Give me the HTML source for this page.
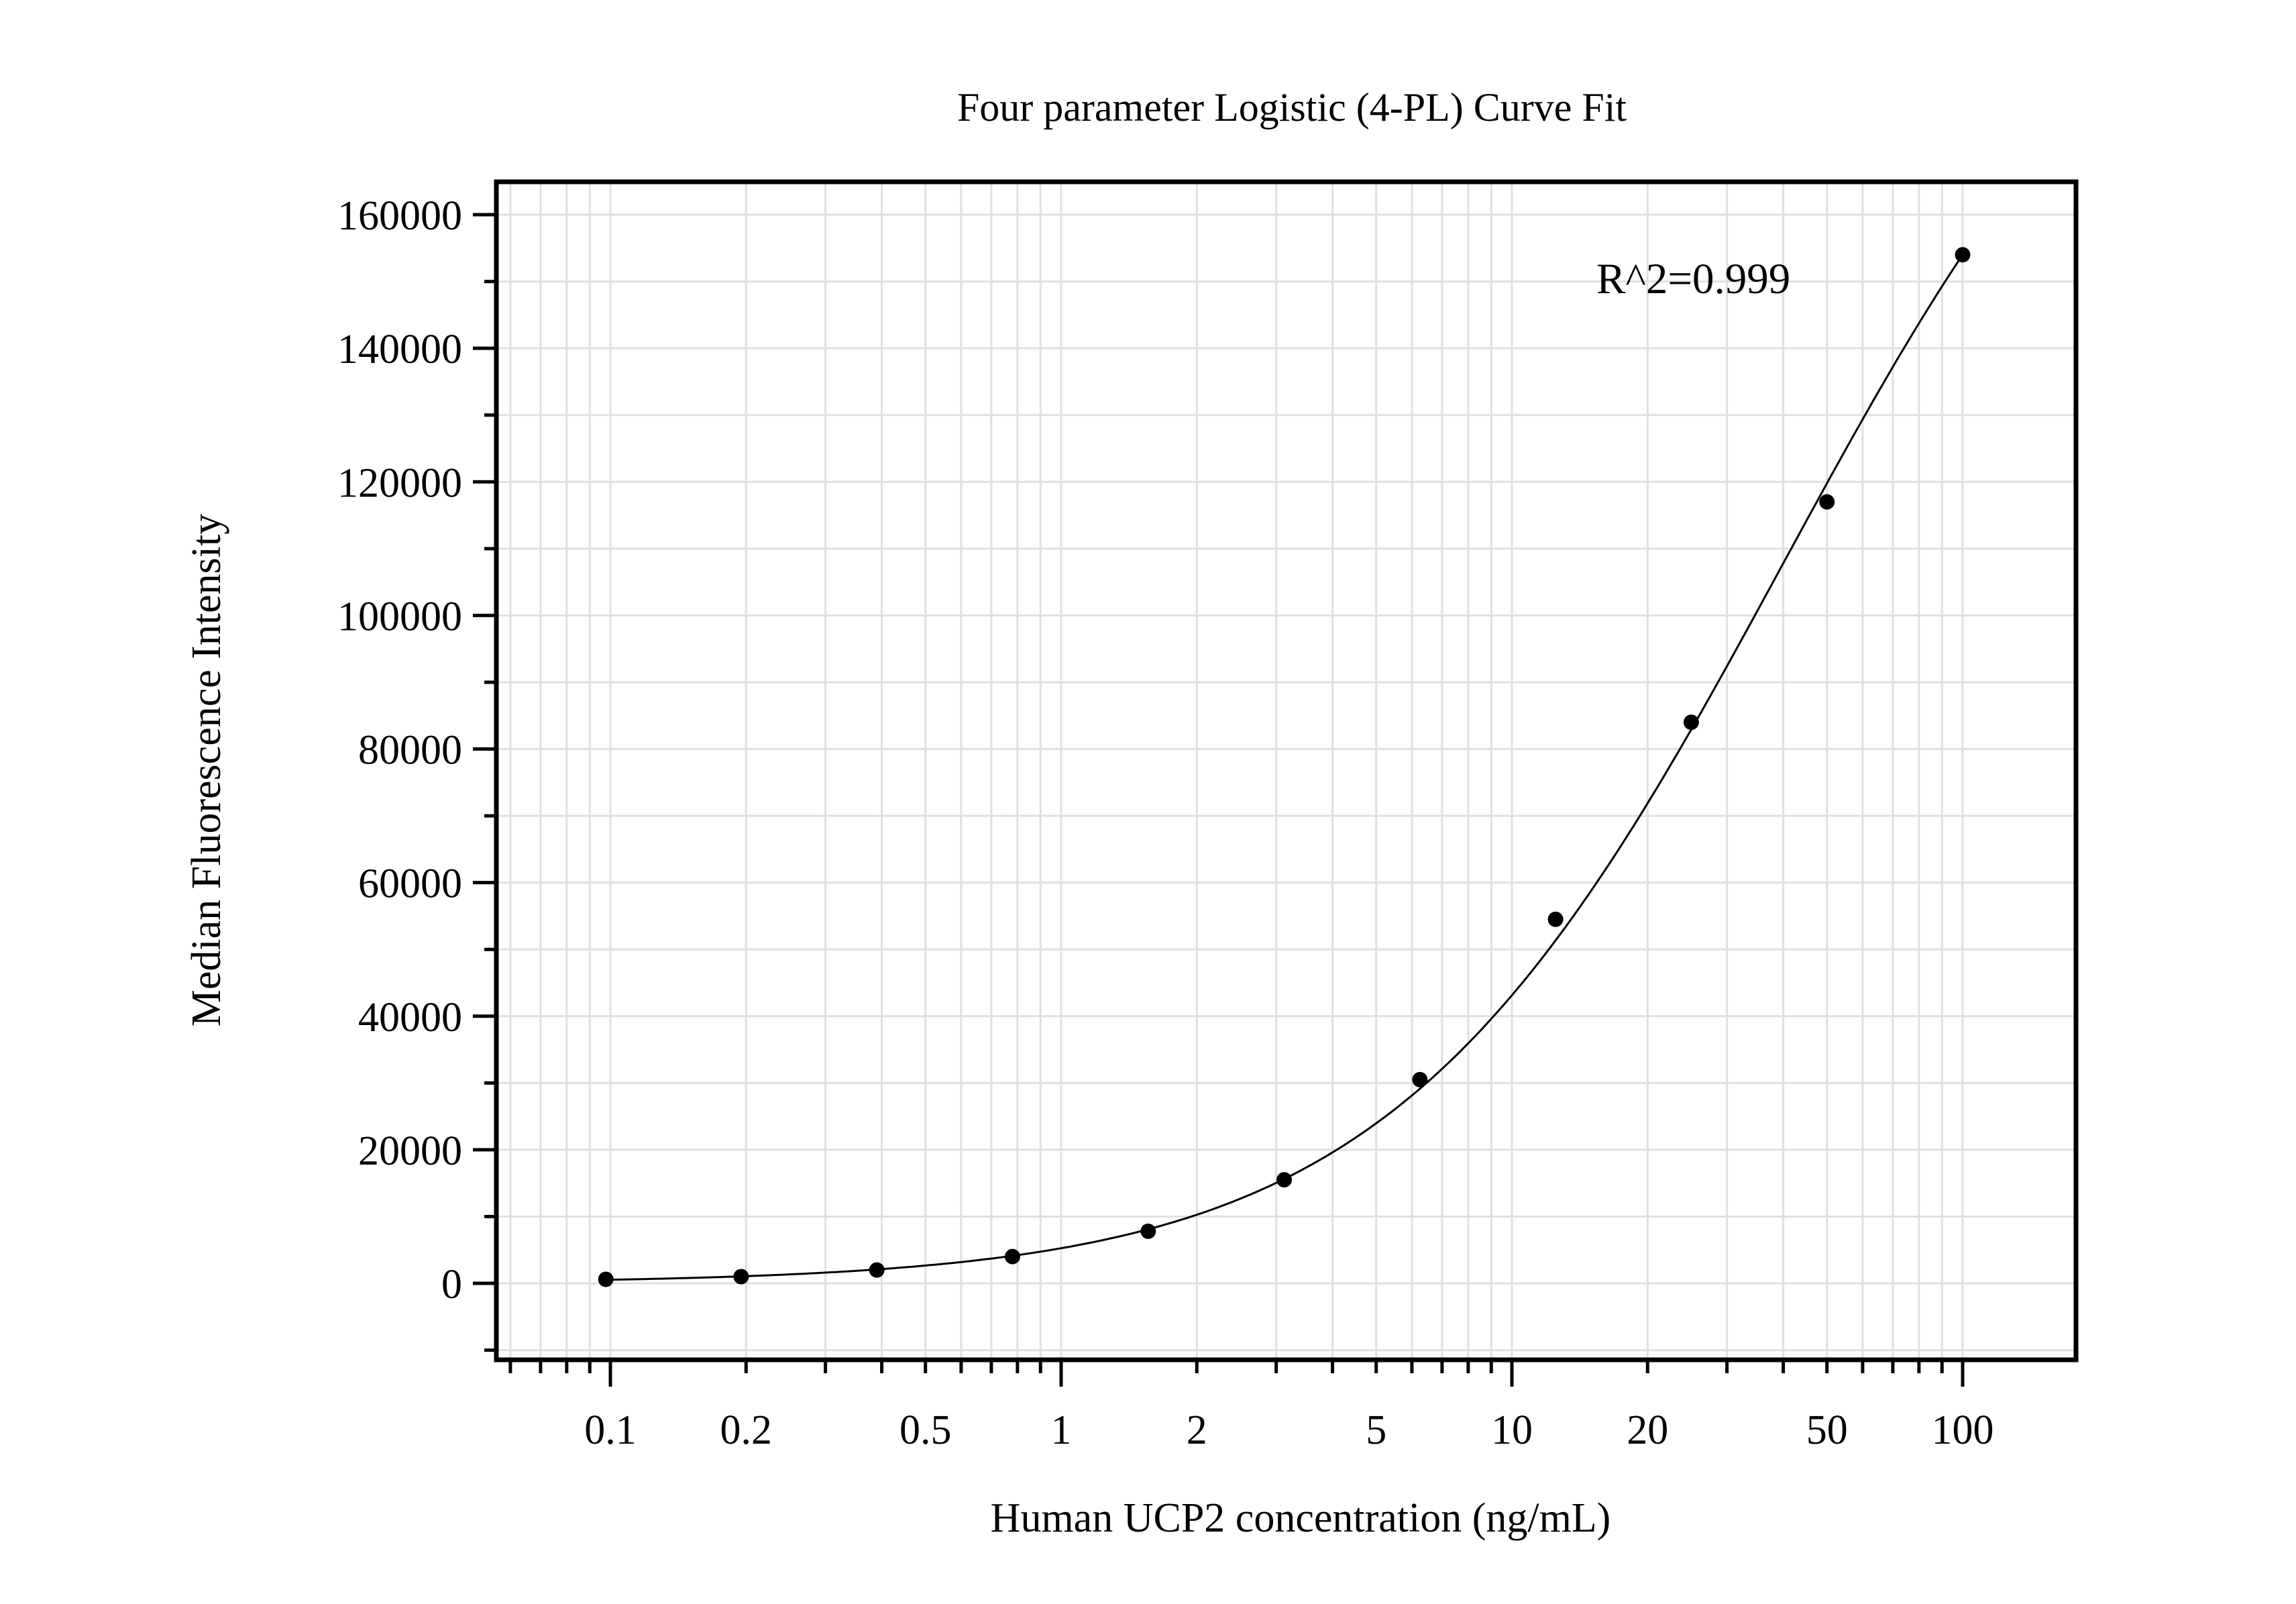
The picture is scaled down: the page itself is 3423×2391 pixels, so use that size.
<!DOCTYPE html>
<html><head><meta charset="utf-8"><style>
html,body{margin:0;padding:0;background:#fff}
svg{display:block;font-family:"Liberation Serif",serif}
</style></head><body>
<svg id="chart" width="3423" height="2391" viewBox="0 0 3423 2391" xmlns="http://www.w3.org/2000/svg">
<rect width="3423" height="2391" fill="#fff"/>
<g id="grid"></g>
<g id="marks"></g>
<g id="axes"></g>
<text x="1926" y="180" font-size="60" text-anchor="middle">Four parameter Logistic (4-PL) Curve Fit</text>
<text x="1939" y="2283" font-size="62" text-anchor="middle">Human UCP2 concentration (ng/mL)</text>
<text transform="translate(328,1148) rotate(-90)" font-size="62" text-anchor="middle">Median Fluorescence Intensity</text>
<text x="2380" y="437" font-size="65">R^2=0.999</text>
</svg>
<script>
const concentrations = [0.0977, 0.195, 0.39, 0.78, 1.56, 3.125, 6.25, 12.5, 25, 50, 100];
const intensities = [600, 1000, 2000, 4000, 7800, 15500, 30500, 54500, 84000, 117000, 154000];
const fitParams = [0, 1, 40, 215600]; // A, B, C, D of 4PL fit
const xTickValues = [0.1, 0.2, 0.5, 1, 2, 5, 10, 20, 50, 100];
const xTickLabels = ["0.1", "0.2", "0.5", "1", "2", "5", "10", "20", "50", "100"];
const yTickValues = [0, 20000, 40000, 60000, 80000, 100000, 120000, 140000, 160000];
const yTickLabels = ["0", "20000", "40000", "60000", "80000", "100000", "120000", "140000", "160000"];

const L = 740, R = 3095, T = 271, B = 2027;
const x0 = 910, dec = 672;
const xs = v => x0 + (Math.log10(v) + 1) * dec;
const yZero = 1913, yPer = (1913 - 320) / 160000;
const ys = v => yZero - v * yPer;
const NS = "http://www.w3.org/2000/svg";
function mk(tag, attrs, parent) {
  const e = document.createElementNS(NS, tag);
  for (const k in attrs) e.setAttribute(k, attrs[k]);
  parent.appendChild(e);
  return e;
}
const grid = document.getElementById('grid');
const marks = document.getElementById('marks');
const axes = document.getElementById('axes');

// vertical gridlines (log minor)
const minorX = [];
for (let d = -2; d <= 2; d++) for (let m = 1; m <= 9; m++) {
  const v = m * Math.pow(10, d);
  const px = xs(v);
  if (px > L + 4 && px < R - 4) minorX.push(v);
}
minorX.forEach(v => {
  const l = mk('line', {x1: xs(v), x2: xs(v), y1: T, y2: B, stroke: '#e0e0e0', 'stroke-width': 3}, grid);
  
  
});
for (let v = -10000; v <= 160000; v += 10000) {
  const py = ys(v);
  if (py < T + 4 || py > B - 4) continue;
  const l = mk('line', {x1: L, x2: R, y1: py, y2: py, stroke: '#e0e0e0', 'stroke-width': 3}, grid);
  
  
}

// fit curve
const [A, Bp, C, D] = fitParams;
let d = '';
for (let lg = Math.log10(0.0977); lg <= 2.0001; lg += 0.01) {
  const x = Math.pow(10, lg);
  const y = D + (A - D) / (1 + Math.pow(x / C, Bp));
  d += (d ? 'L' : 'M') + xs(x).toFixed(1) + ',' + ys(y).toFixed(1);
}
const curve = mk('path', {d: d, fill: 'none', stroke: '#000', 'stroke-width': 3}, marks);



concentrations.forEach((c, i) => {
  const p = mk('circle', {cx: xs(c), cy: ys(intensities[i]), r: 11.5, fill: '#000'}, marks);
  
  
});

// frame
const fr = mk('rect', {x: L, y: T, width: R - L, height: B - T, fill: 'none', stroke: '#000', 'stroke-width': 7}, axes);



// x ticks
minorX.forEach(v => {
  const isDec = Math.abs(Math.log10(v) - Math.round(Math.log10(v))) < 1e-6;
  const t = mk('line', {x1: xs(v), x2: xs(v), y1: B, y2: B + (isDec ? 40 : 20), stroke: '#000', 'stroke-width': 5}, axes);
  
  
});
xTickValues.forEach((v, i) => {
  const t = mk('text', {x: xs(v), y: 2152, 'font-size': 62, 'text-anchor': 'middle'}, axes);
  t.textContent = xTickLabels[i];
  
  
});
// y ticks
for (let v = -10000; v <= 160000; v += 10000) {
  const major = v % 20000 === 0;
  const t = mk('line', {x1: L, x2: L - (major ? 35 : 18), y1: ys(v), y2: ys(v), stroke: '#000', 'stroke-width': 5}, axes);
  
  
}
yTickValues.forEach((v, i) => {
  const t = mk('text', {x: 689, y: ys(v) + 22, 'font-size': 62, 'text-anchor': 'end'}, axes);
  t.textContent = yTickLabels[i];
  
  
});
</script>
</body></html>
